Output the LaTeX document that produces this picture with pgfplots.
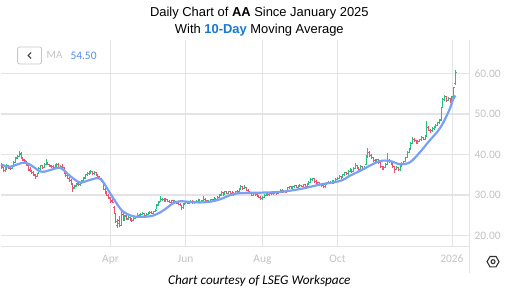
\documentclass[border=0pt]{standalone}
\usepackage{fontspec}
\setmainfont{Liberation Sans}
\newfontfamily\calfont{Carlito}
\usepackage{pgfplots}
\usepackage{pgfplotstable}
\pgfplotsset{compat=1.18}
\definecolor{upc}{RGB}{40,190,130}
\definecolor{dnc}{RGB}{240,80,110}
\definecolor{mac}{RGB}{122,160,245}
\definecolor{ttl}{RGB}{25,118,210}
\definecolor{lbl}{RGB}{195,195,195}
\definecolor{grd}{RGB}{228,228,228}
\definecolor{mav}{RGB}{90,135,240}

\pgfplotstableread{
o h l c
37.4 37.8 36.5 37.0
36.8 37.0 35.6 36.0
36.0 36.9 35.8 36.5
36.6 37.6 36.3 37.2
37.3 37.5 36.4 36.7
36.6 37.0 36.1 36.5
36.5 37.3 36.4 37.0
37.1 38.3 37.0 38.0
38.1 39.3 37.9 39.0
39.2 39.9 38.8 39.5
39.6 40.8 39.3 40.0
40.3 40.6 38.9 39.2
39.0 39.4 38.4 38.7
38.6 39.0 38.0 38.5
38.3 38.5 37.2 37.5
37.4 37.6 36.0 36.2
36.1 36.8 35.7 36.0
36.0 36.3 35.2 35.5
35.6 35.9 34.7 35.0
34.8 35.1 34.0 34.6
34.6 35.5 34.4 35.2
35.3 36.8 35.2 36.5
36.6 37.5 36.3 37.2
37.3 37.5 36.5 36.8
36.9 37.8 36.7 37.5
37.6 38.9 37.5 38.2
38.0 38.2 37.3 37.6
37.5 37.7 36.9 37.2
37.1 37.5 36.6 37.0
37.0 37.3 36.4 36.8
36.8 37.6 36.6 37.3
37.2 38.0 37.0 37.5
37.6 37.8 36.6 36.8
36.8 37.4 36.5 37.0
37.1 37.6 36.5 36.8
36.7 36.9 35.2 35.5
35.4 35.8 34.5 34.8
34.9 35.1 33.9 34.2
34.0 34.4 33.2 33.5
33.6 33.9 32.5 32.8
32.6 32.9 30.8 31.8
31.6 32.6 31.4 32.2
32.3 33.0 31.9 32.7
32.8 33.1 32.2 32.5
32.5 33.3 32.3 33.0
33.0 33.7 32.7 33.4
33.5 34.5 33.3 34.2
34.3 35.3 34.0 35.0
35.0 35.6 34.7 35.2
35.3 35.9 35.0 35.5
35.6 36.2 35.3 35.8
35.9 36.0 35.0 35.3
35.2 35.9 35.0 35.6
35.6 35.8 34.7 35.0
34.9 35.2 34.2 34.5
34.4 34.7 33.7 34.0
34.1 34.3 33.2 33.5
33.2 33.4 31.2 31.5
31.4 31.8 30.2 30.5
30.6 30.9 29.7 30.0
29.9 30.2 29.0 29.3
29.2 29.6 28.1 28.6
28.4 29.0 28.0 28.3
27.0 27.3 25.4 25.8
25.4 25.6 23.2 23.5
22.5 24.0 21.9 23.0
23.8 24.8 22.2 22.5
22.6 26.5 22.4 25.9
25.2 25.5 23.6 24.0
24.0 25.2 23.7 24.8
24.9 25.0 23.9 24.2
24.1 24.9 23.9 24.5
24.5 24.7 23.7 24.0
24.0 24.3 23.3 23.8
23.8 24.6 23.6 24.3
24.3 24.9 24.0 24.6
24.7 25.5 24.5 25.0
25.1 25.3 24.5 24.8
24.8 25.6 24.6 25.2
25.2 25.8 25.0 25.4
25.5 25.6 24.8 25.0
25.0 25.6 24.8 25.3
25.3 25.9 25.1 25.6
25.7 26.1 25.4 25.8
25.8 26.0 25.3 25.5
25.5 26.1 25.3 25.9
26.0 26.6 25.8 26.3
26.6 27.8 26.5 27.5
27.6 28.6 27.4 28.3
28.4 29.8 28.2 28.8
28.8 29.3 28.5 28.9
29.0 29.2 28.3 28.6
28.6 29.4 28.4 29.0
29.0 29.1 28.2 28.5
28.5 28.7 28.0 28.3
28.3 28.9 28.1 28.6
28.6 28.8 27.9 28.2
28.1 28.7 27.9 28.4
28.4 28.6 27.7 28.0
28.0 28.2 27.5 27.8
27.8 28.0 27.2 27.5
27.4 27.6 26.4 27.0
27.0 28.0 26.6 27.8
27.9 28.6 27.7 28.3
28.3 28.5 27.8 28.0
28.0 28.5 27.8 28.2
28.2 28.8 28.0 28.5
28.5 28.7 27.8 28.1
28.1 28.6 27.9 28.3
28.3 28.8 28.1 28.5
28.5 29.1 28.3 28.8
28.8 29.0 28.0 28.2
28.2 28.9 28.0 28.6
28.6 29.8 28.5 29.0
29.0 29.2 28.4 28.7
28.7 28.9 28.0 28.3
28.3 28.8 28.1 28.5
28.5 29.1 28.3 28.8
28.9 29.1 28.5 28.8
28.8 29.5 28.6 29.2
29.2 29.4 28.7 29.0
29.0 29.8 28.9 29.5
29.5 30.3 29.3 30.0
30.1 30.9 29.9 30.6
30.6 30.8 29.9 30.2
30.2 31.1 30.0 30.8
30.8 31.0 30.2 30.5
30.5 31.1 30.3 30.8
30.8 31.0 30.0 30.3
30.3 30.9 30.1 30.6
30.6 30.8 29.9 30.2
30.2 31.1 30.0 30.8
30.8 31.3 30.6 31.0
31.0 31.8 30.8 31.5
31.5 32.4 31.3 32.0
32.0 32.2 31.3 31.6
31.6 32.4 31.4 31.8
31.8 32.0 30.9 31.2
31.2 31.4 30.5 30.8
30.8 31.0 30.3 30.6
30.5 30.7 29.7 30.0
30.0 30.8 29.8 30.5
30.5 30.7 29.9 30.2
30.2 30.4 29.5 29.8
29.8 30.0 29.2 29.5
29.5 29.7 28.8 29.2
29.2 29.8 28.9 29.5
29.5 30.3 29.3 30.0
30.0 30.6 29.8 30.3
30.3 30.5 29.8 30.1
30.1 30.8 29.9 30.5
30.5 30.7 30.0 30.3
30.3 30.8 30.1 30.5
30.5 31.1 30.3 30.8
30.8 31.0 30.1 30.4
30.4 30.9 30.2 30.6
30.6 31.5 30.4 31.2
31.2 31.4 30.5 30.8
30.8 31.3 30.6 31.0
31.0 31.2 30.4 30.7
30.8 32.1 30.7 31.8
31.8 32.3 31.6 32.0
32.0 32.2 31.5 31.8
31.8 32.3 31.6 32.0
32.0 32.6 31.8 32.3
32.3 32.5 31.7 31.9
31.9 32.4 31.7 32.1
32.1 32.7 31.9 32.4
32.4 32.6 31.9 32.2
32.2 32.8 32.0 32.5
32.5 32.7 31.9 32.2
32.2 33.1 32.0 32.8
32.8 33.5 32.6 33.2
33.2 34.1 33.0 33.8
33.8 34.3 33.5 34.0
34.0 34.2 33.1 33.4
33.4 33.6 32.5 32.8
32.8 33.3 32.6 33.0
33.0 33.2 32.2 32.5
32.5 32.7 32.0 32.3
32.3 32.5 31.7 32.0
32.0 32.9 31.8 32.6
32.6 33.2 32.4 32.9
32.9 33.5 32.7 33.2
33.2 33.4 32.7 33.0
33.0 33.7 32.8 33.4
33.4 33.6 32.8 33.1
33.1 34.1 33.0 33.8
33.8 34.5 33.6 34.2
34.2 34.9 34.0 34.6
34.6 34.8 34.0 34.3
34.3 35.3 34.1 35.0
35.0 35.8 34.8 35.5
35.5 35.7 34.9 35.2
35.2 36.1 35.0 35.8
35.8 36.6 35.6 36.3
36.3 36.5 35.5 35.8
35.8 36.9 35.6 36.6
36.6 38.0 36.4 37.2
37.2 37.5 36.4 36.7
36.7 36.9 36.0 36.3
36.3 37.3 36.1 37.0
37.0 37.2 36.1 36.4
36.4 37.1 36.2 36.8
37.5 39.8 37.3 39.4
39.4 41.6 39.2 40.5
40.5 40.8 39.5 39.8
39.8 40.0 38.9 39.2
39.2 39.4 38.2 38.5
38.5 38.8 37.9 38.3
38.3 39.0 38.0 38.7
38.7 38.9 37.7 38.0
38.0 38.2 36.7 37.0
37.0 37.2 36.1 36.4
36.4 37.1 36.2 36.8
36.8 37.8 36.6 37.5
37.5 40.4 37.3 38.6
38.6 38.9 37.9 38.2
38.2 38.4 37.3 37.6
37.6 37.8 36.7 37.0
37.0 37.2 35.5 36.3
36.3 37.1 36.1 36.8
36.8 37.0 35.9 36.2
36.2 37.3 36.0 37.0
37.0 38.1 36.8 37.8
37.8 38.5 37.6 38.2
38.3 39.5 38.1 39.2
39.3 40.8 39.1 40.5
40.5 41.6 40.3 41.3
41.4 43.1 41.2 42.8
42.8 44.3 42.6 43.8
43.8 44.1 43.1 43.4
43.4 43.6 42.5 42.8
42.8 43.5 42.6 43.2
43.2 43.9 43.0 43.6
43.6 44.6 43.4 44.2
44.2 44.4 43.5 43.8
43.8 44.8 43.6 44.5
44.6 48.3 44.4 46.6
46.6 46.9 45.7 46.0
46.0 46.3 45.4 45.8
45.8 46.7 45.6 46.4
46.4 47.0 46.1 46.7
46.7 47.5 46.5 47.2
47.2 48.1 47.0 47.8
47.8 48.7 47.6 48.4
48.5 51.8 48.3 51.5
51.6 53.9 51.4 53.6
53.6 54.6 53.2 54.3
54.3 54.5 53.0 53.3
53.3 54.1 53.1 53.8
53.8 54.0 52.8 53.2
53.2 54.3 52.9 54.0
54.3 56.7 54.1 56.4
57.5 60.8 57.2 60.3
}\ohlc

\pgfplotstableread{
i v
0 37.5
5 37.0
13.5 38.0
22 35.8
27.5 36.2
33 36.7
38.7 34.6
44 33.1
50 33.8
55.4 34.0
61 30.3
66.6 26.6
70.5 25.3
75 24.7
83.4 24.8
89 25.8
93 27.0
96 28.0
100 28.5
105.7 28.3
111.3 28.2
117 28.4
122.5 29.0
128 30.0
133.6 30.5
144.8 30.6
156 30.8
167.2 31.5
178.3 32.6
189.5 33.5
195 34.8
200.7 36.0
206.3 37.3
211.8 38.4
217.4 38.4
223 37.6
228.6 38.1
234.2 40.6
239.8 43.6
243.7 45.5
247.1 47.8
251 51.4
252.6 53.5
254 54.5
}\ma

\pgfplotsset{
  upbar/.style={upc, line width=1bp, x filter/.expression={\thisrow{c}>=\thisrow{o} ? x : nan}},
  dnbar/.style={dnc, line width=1bp, x filter/.expression={\thisrow{c}<\thisrow{o} ? x : nan}},
}

\begin{document}
\begin{tikzpicture}[x=1bp,y=1bp]
\begin{axis}[scale only axis,
  width=469bp, height=207bp,
  xmin=-0.45, xmax=261.6, ymin=17.3, ymax=68.2,
  axis line style={draw=none}, tick style={draw=none},
  xtick={61,103,146,188,252}, xticklabels={Apr,Jun,Aug,Oct,2026},
  ytick={20,30,40,50,60}, yticklabel pos=right,
  xmajorgrids, ymajorgrids,
  x grid style={grd, line width=0.8bp},
  y grid style={grd, line width=1.3bp},
  ticklabel style={font=\calfont\fontsize{11.5}{13}\selectfont, text=lbl},
  xticklabel style={yshift=-5bp},
  yticklabel style={xshift=2bp},
  /pgf/number format/.cd, fixed, fixed zerofill, precision=2, assume math mode=true,
]
\coordinate (O) at (rel axis cs:0,0);
\addplot[upbar, quiver={u=0, v=\thisrow{h}-\thisrow{l}}] table[x expr=\coordindex, y=l] {\ohlc};
\addplot[upbar, quiver={u=0.75, v=0}] table[x expr=\coordindex-0.75, y=o] {\ohlc};
\addplot[upbar, quiver={u=0.75, v=0}] table[x expr=\coordindex, y=c] {\ohlc};
\addplot[dnbar, quiver={u=0, v=\thisrow{h}-\thisrow{l}}] table[x expr=\coordindex, y=l] {\ohlc};
\addplot[dnbar, quiver={u=0.75, v=0}] table[x expr=\coordindex-0.75, y=o] {\ohlc};
\addplot[dnbar, quiver={u=0.75, v=0}] table[x expr=\coordindex, y=c] {\ohlc};
\addplot[mac, line width=2.2bp, smooth, tension=0.5] table[x=i, y=v] {\ma};
\end{axis}
\begin{scope}[shift={(O)}]
\useasboundingbox (0,-45) rectangle (518,247);
\draw[grd, line width=0.8bp] (0,0) -- (469,0);
\draw[grd, line width=1bp] (469,207) -- (469,-26);
\node[font=\fontsize{13}{15}\selectfont] at (259,233.5) {Daily Chart of \textbf{AA} Since January 2025};
\node[font=\fontsize{13}{15}\selectfont] at (259,216.5) {With \textcolor{ttl}{\textbf{10-Day}} Moving Average};
\node[font=\calfont\itshape\fontsize{13.3}{15}\selectfont] at (259,-34) {Chart courtesy of LSEG Workspace};
\fill[white] (17,183) rectangle (41,200);
\draw[rounded corners=2bp, draw=black!22, line width=0.8bp] (17,183) rectangle (41,200);
\draw[line width=1bp, black!75] (30.5,194.5) -- (27.5,191.5) -- (30.5,188.5);
\node[text=lbl, font=\calfont\fontsize{11}{13}\selectfont] at (54,191.5) {MA};
\node[text=mav, font=\calfont\fontsize{11.5}{13}\selectfont] at (83,191.5) {54.50};
\draw[line width=1.1bp, black!80] (499,-15) -- (496,-9.8) -- (490,-9.8) -- (487,-15) -- (490,-20.2) -- (496,-20.2) -- cycle;
\draw[line width=1.1bp, black!80] (493,-15) circle (2bp);
\end{scope}
\end{tikzpicture}
\end{document}
